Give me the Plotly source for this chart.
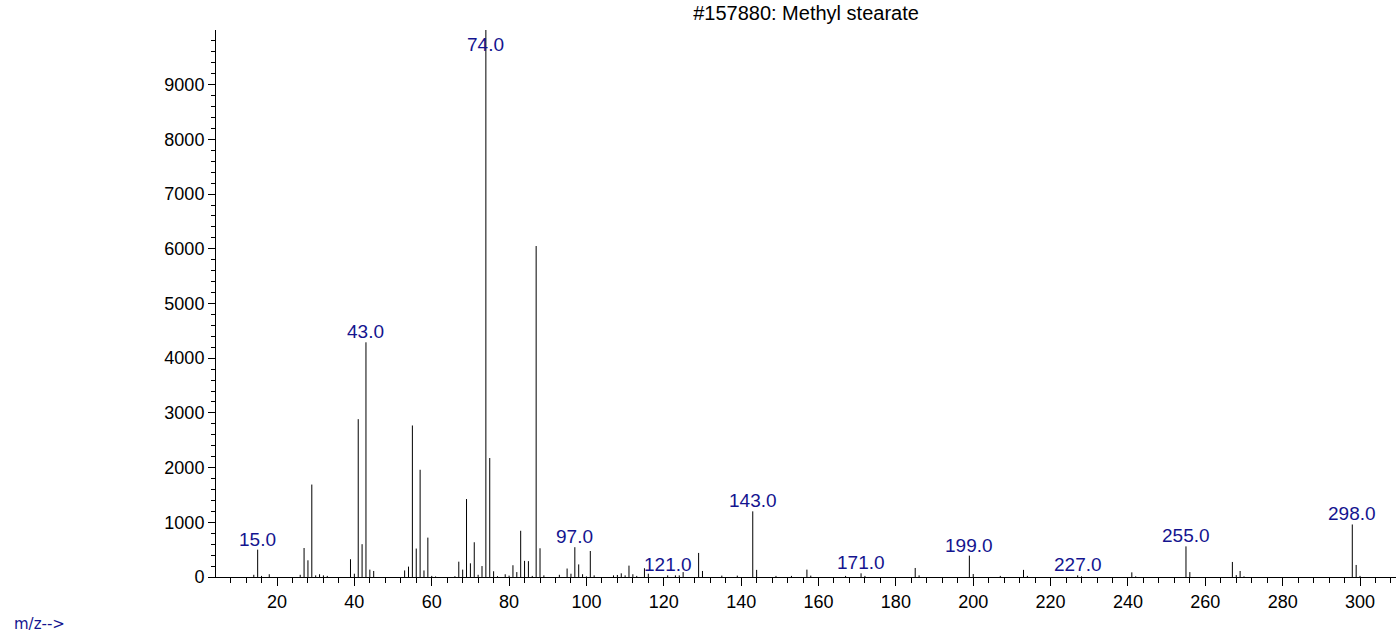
import plotly.graph_objects as go

# ---- data (m/z and relative abundance) ----
mz = [14, 15, 16, 18, 26, 27, 28, 29, 30, 31, 32, 33,
      39, 40, 41, 42, 43, 44, 45,
      53, 54, 55, 56, 57, 58, 59, 60, 61,
      66, 67, 68, 69, 70, 71, 72, 73, 74, 75, 76, 77,
      79, 80, 81, 82, 83, 84, 85, 86, 87, 88, 89,
      93, 95, 96, 97, 98, 99, 100, 101, 102,
      107, 108, 109, 110, 111, 112, 113, 115, 116,
      121, 123, 124, 125, 129, 130, 135, 139, 143, 144,
      149, 153, 157, 158, 167, 171, 172, 185, 186,
      199, 200, 207, 213, 214, 227, 228,
      241, 242, 255, 256, 267, 268, 269, 270,
      298, 299, 300]
abundance = [40, 500, 20, 50, 40, 530, 305, 1690, 30, 50, 30, 20,
             325, 60, 2885, 600, 4290, 135, 110,
             120, 190, 2770, 520, 1960, 120, 720, 20, 10,
             15, 280, 135, 1425, 250, 635, 40, 200, 10000, 2175, 105, 15,
             50, 25, 215, 90, 845, 295, 290, 20, 6050, 525, 30,
             40, 155, 60, 545, 230, 50, 10, 475, 30,
             30, 37, 67, 30, 208, 50, 20, 160, 60,
             30, 30, 30, 90, 440, 110, 25, 25, 1200, 130,
             20, 20, 135, 25, 20, 67, 20, 165, 30,
             390, 55, 20, 130, 20, 30, 12,
             85, 12, 560, 90, 275, 35, 110, 12,
             960, 220, 20]
labeled_mz = [15, 43, 74, 97, 121, 143, 171, 199, 227, 255, 298]

title_text = "#157880: Methyl stearate"
x_axis_text = "m/z-->"

X_RANGE = [4.23, 309.3]
Y_RANGE = [0, 9999]
LABEL_CAP = 9550
BLUE = "#14148f"
FONT = "Arial, Liberation Sans, sans-serif"

xs, ys = [], []
for m, h in zip(mz, abundance):
    xs += [m, m, None]
    ys += [0, h, None]

fig = go.Figure()
fig.add_trace(go.Scatter(x=xs, y=ys, mode="lines",
                         line=dict(color="black", width=1),
                         hoverinfo="skip", showlegend=False))

annotations = []
for m in labeled_mz:
    h = abundance[mz.index(m)]
    annotations.append(dict(x=m, y=min(h, LABEL_CAP), xref="x", yref="y",
                            text=f"{m:.1f}", showarrow=False,
                            xanchor="center", yanchor="bottom", yshift=-2,
                            font=dict(family=FONT, size=19, color=BLUE)))
annotations.append(dict(x=-0.1729, y=-0.0859, xref="paper", yref="paper",
                        text=x_axis_text, showarrow=False,
                        xanchor="left", yanchor="middle",
                        font=dict(family="DejaVu Sans, Verdana, sans-serif",
                                  size=15, color=BLUE)))

fig.update_layout(
    width=1399, height=634,
    margin=dict(l=216, r=3, t=30, b=57),
    paper_bgcolor="white", plot_bgcolor="white",
    title=dict(text=title_text, x=0.5, xref="paper", xanchor="center",
               y=1 - 13 / 634, yref="container", yanchor="middle",
               font=dict(family=FONT, size=20, color="black")),
    annotations=annotations,
    xaxis=dict(range=X_RANGE, showgrid=False, zeroline=False,
               showline=True, linecolor="black", linewidth=1,
               tickmode="linear", tick0=0, dtick=20,
               ticks="outside", ticklen=8, tickwidth=1, tickcolor="black",
               minor=dict(tickmode="linear", tick0=0, dtick=4,
                          ticks="outside", ticklen=5, tickcolor="black",
                          showgrid=False),
               tickfont=dict(family=FONT, size=18, color="black")),
    yaxis=dict(range=Y_RANGE, showgrid=False, zeroline=False,
               showline=True, linecolor="black", linewidth=1,
               tickmode="linear", tick0=0, dtick=1000, tickformat="d",
               ticks="outside", ticklen=7, tickwidth=1, tickcolor="black",
               minor=dict(tickmode="linear", tick0=0, dtick=200,
                          ticks="outside", ticklen=4, tickcolor="black",
                          showgrid=False),
               tickfont=dict(family=FONT, size=18, color="black")),
)

fig.write_html("out.html",
               config={"displayModeBar": False},
               post_script="document.body.style.margin='0';"
                           "document.body.style.overflow='hidden';")
